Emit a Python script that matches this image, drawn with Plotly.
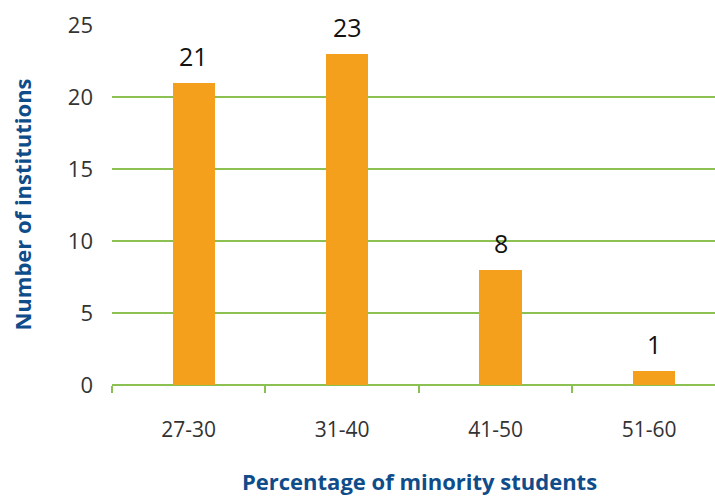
import plotly.graph_objects as go

# Institutions grouped by share of minority students
categories = ["27-30", "31-40", "41-50", "51-60"]
institutions = [21, 23, 8, 1]
y_ticks = [0, 5, 10, 15, 20, 25]

BAR = "#F5A01D"
GRID = "#8CC152"
NAVY = "#0F4C8A"
TICK_TXT = "#333333"

fig = go.Figure(
    go.Bar(
        x=categories,
        y=institutions,
        marker=dict(color=BAR, line=dict(width=0)),
        width=0.275,
        offset=-0.105,
        hoverinfo="skip",
    )
)

# value labels above each bar
value_labels = [
    dict(
        x=c, y=v, text=str(v),
        xref="x", yref="y",
        xshift=5, yshift=8,
        xanchor="center", yanchor="bottom",
        showarrow=False,
        font=dict(family="Open Sans", size=25, color="#111111"),
    )
    for c, v in zip(categories, institutions)
]

fig.update_layout(
    width=715,
    height=501,
    margin=dict(l=112, r=0, t=25, b=116),
    paper_bgcolor="white",
    plot_bgcolor="white",
    showlegend=False,
    bargap=0,
    font=dict(family="Open Sans", color=TICK_TXT),
    xaxis=dict(
        type="category",
        range=[-0.5, 3.43],
        tickson="boundaries",
        ticks="outside",
        ticklen=7,
        tickwidth=2,
        tickcolor=GRID,
        showline=False,
        showgrid=False,
        tickfont=dict(family="Open Sans", size=21, color=TICK_TXT),
        ticklabelstandoff=30,
    ),
    yaxis=dict(
        range=[0, 25],
        tickvals=y_ticks,
        showgrid=True,
        gridcolor=GRID,
        gridwidth=1.5,
        zeroline=True,
        zerolinecolor=GRID,
        zerolinewidth=2,
        showline=False,
        ticks="",
        tickfont=dict(family="Open Sans", size=22, color=TICK_TXT),
        ticklabelstandoff=18,
    ),
    annotations=value_labels + [
        dict(
            text="<b>Percentage of minority students</b>",
            xref="paper", yref="paper",
            x=0.51, y=-0.268,
            xanchor="center", yanchor="middle",
            showarrow=False,
            font=dict(family="Open Sans", size=22, color=NAVY),
        ),
        dict(
            text="<b>Number of institutions</b>",
            xref="paper", yref="paper",
            x=-0.15, y=0.5,
            xanchor="center", yanchor="middle",
            textangle=-90,
            showarrow=False,
            font=dict(family="Open Sans", size=22, color=NAVY),
        ),
    ],
)

fig.write_html("out.html")
